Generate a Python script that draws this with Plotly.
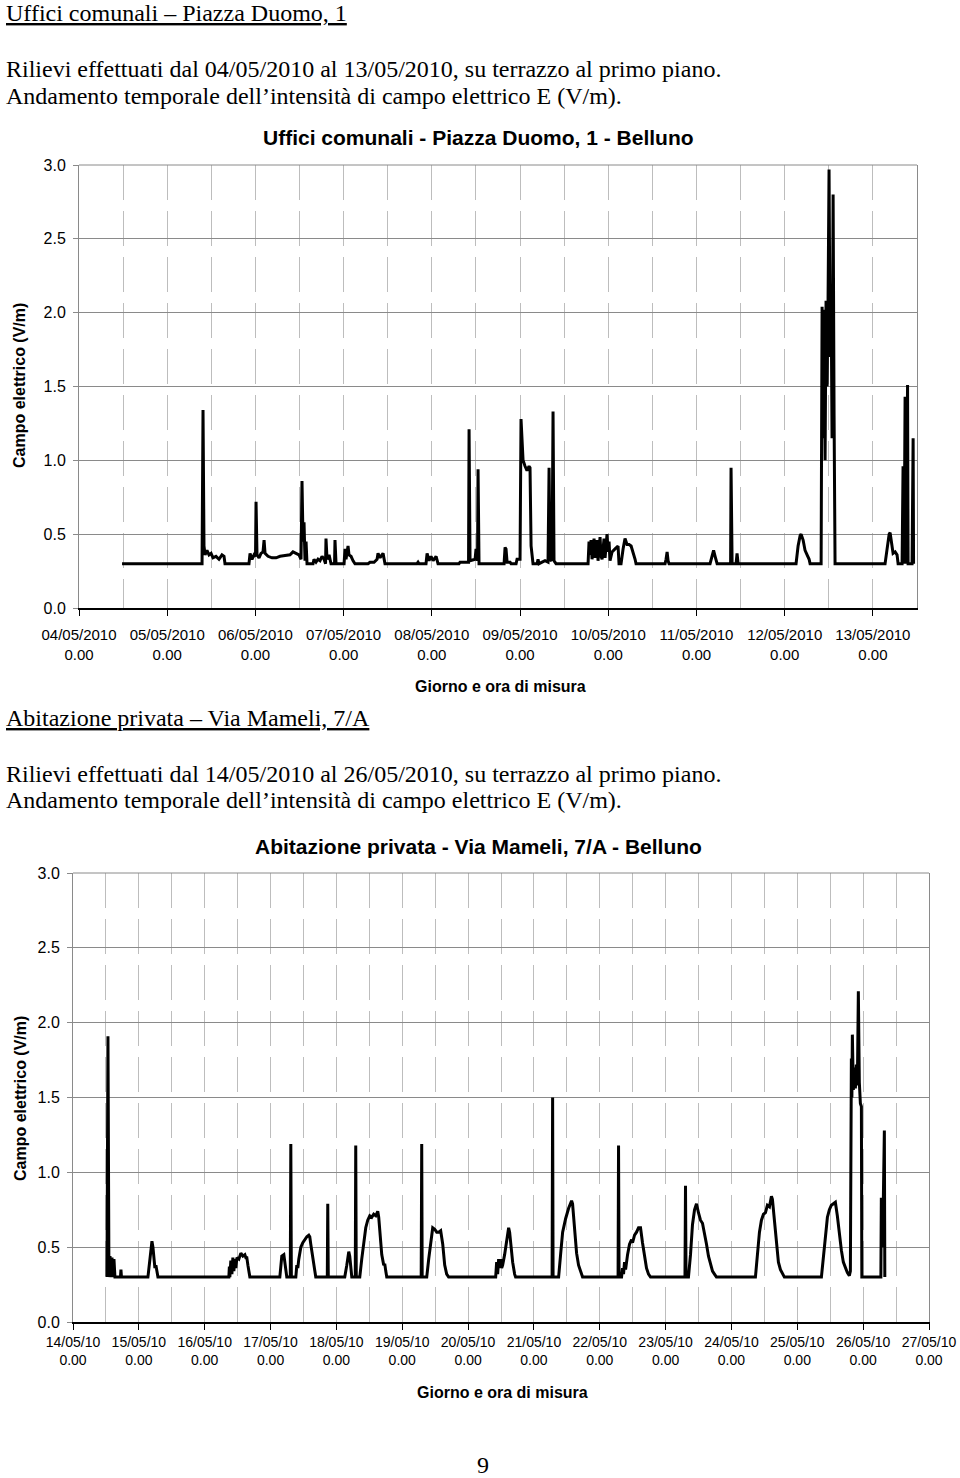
import pandas as pd
import plotly.graph_objects as go

# ---------------- Chart 1 : Uffici comunali (days after 04/05/2010 00:00) ----------------
T1 = [0.488, 1.395, 1.406, 1.417, 1.429, 1.451, 1.474, 1.497, 1.519, 1.553, 1.587, 1.621, 1.644, 1.655,
      1.927, 1.939, 1.961, 1.984, 2.001, 2.007, 2.018, 2.041, 2.063, 2.086, 2.098, 2.109, 2.143, 2.188,
      2.234, 2.279, 2.336, 2.392, 2.426, 2.460, 2.494, 2.517, 2.528, 2.540, 2.551, 2.562, 2.574, 2.585,
      2.653, 2.664, 2.687, 2.710, 2.732, 2.755, 2.778, 2.795, 2.800, 2.812, 2.835, 2.857, 2.897, 2.902,
      2.914, 3.005, 3.016, 3.027, 3.050, 3.061, 3.084, 3.107, 3.129,
      3.277, 3.299, 3.345, 3.379, 3.390, 3.413, 3.435, 3.447, 3.469,
      3.832, 3.844, 3.855, 3.934, 3.946, 3.968, 3.991, 4.014, 4.048, 4.070,
      4.308, 4.320, 4.388, 4.416, 4.422, 4.433, 4.490, 4.501, 4.518, 4.524, 4.535,
      4.819, 4.830, 4.841, 4.853, 4.887, 4.898, 4.955, 4.966, 5.000, 5.011, 5.023, 5.034, 5.057, 5.079,
      5.102, 5.113, 5.125, 5.136, 5.147, 5.193, 5.204, 5.215, 5.261, 5.283, 5.317, 5.329, 5.340, 5.363,
      5.374, 5.385, 5.408,
      5.771, 5.782, 5.794, 5.805, 5.816, 5.839, 5.850, 5.873, 5.884, 5.907, 5.918, 5.930, 5.952, 5.964,
      5.986, 5.998, 6.009, 6.020, 6.043, 6.077, 6.111, 6.122, 6.145, 6.168, 6.190, 6.213, 6.236, 6.259,
      6.281, 6.304, 6.315,
      6.644, 6.655, 6.667, 6.678, 6.689,
      7.154, 7.177, 7.194, 7.211, 7.234,
      7.387, 7.392, 7.404, 7.449, 7.460, 7.472,
      8.129, 8.152, 8.175, 8.186, 8.209, 8.231, 8.254, 8.277, 8.288,
      8.413, 8.424, 8.435, 8.447, 8.458, 8.469, 8.481, 8.492, 8.503, 8.515, 8.526, 8.537, 8.549, 8.560, 8.571,
      9.138, 9.161, 9.184, 9.195, 9.206, 9.229, 9.252, 9.274, 9.286,
      9.331, 9.342, 9.354, 9.365, 9.376, 9.393, 9.399, 9.444, 9.456, 9.461]
E1 = [0.30, 0.30, 1.34, 0.42, 0.36, 0.39, 0.36, 0.37, 0.34, 0.35, 0.33, 0.36, 0.35, 0.30,
      0.30, 0.37, 0.33, 0.36, 0.35, 0.72, 0.36, 0.34, 0.37, 0.38, 0.46, 0.37, 0.35, 0.34,
      0.34, 0.35, 0.355, 0.36, 0.38, 0.37, 0.36, 0.33, 0.86, 0.45, 0.58, 0.32, 0.45, 0.30,
      0.30, 0.33, 0.31, 0.33, 0.32, 0.35, 0.33, 0.30, 0.47, 0.33, 0.36, 0.30, 0.30, 0.46,
      0.30, 0.30, 0.40, 0.33, 0.42, 0.36, 0.35, 0.32, 0.30,
      0.30, 0.31, 0.31, 0.33, 0.37, 0.34, 0.36, 0.37, 0.30,
      0.30, 0.31, 0.30, 0.30, 0.37, 0.32, 0.35, 0.32, 0.35, 0.30,
      0.30, 0.31, 0.31, 0.31, 1.21, 0.32, 0.33, 0.40, 0.32, 0.94, 0.30,
      0.30, 0.41, 0.40, 0.31, 0.31, 0.30, 0.30, 0.33, 0.33, 1.28, 1.10, 1.00, 0.96, 0.93,
      0.96, 0.95, 0.42, 0.35, 0.30, 0.30, 0.33, 0.30, 0.31, 0.32, 0.31, 0.95, 0.32, 0.33,
      1.33, 0.32, 0.30,
      0.30, 0.45, 0.36, 0.46, 0.33, 0.47, 0.34, 0.46, 0.32, 0.48, 0.35, 0.33, 0.47, 0.34,
      0.50, 0.38, 0.45, 0.32, 0.38, 0.40, 0.42, 0.30, 0.30, 0.40, 0.47, 0.43, 0.43, 0.42,
      0.38, 0.33, 0.30,
      0.30, 0.33, 0.38, 0.32, 0.30,
      0.30, 0.35, 0.39, 0.35, 0.30,
      0.30, 0.95, 0.30, 0.30, 0.37, 0.30,
      0.30, 0.42, 0.49, 0.50, 0.46, 0.39, 0.36, 0.33, 0.30,
      0.30, 2.04, 1.15, 2.02, 1.00, 2.08, 1.50, 2.10, 2.97, 1.70, 2.15, 1.15, 2.80, 1.30, 0.30,
      0.30, 0.42, 0.50, 0.51, 0.46, 0.37, 0.38, 0.36, 0.30,
      0.30, 0.96, 0.30, 1.43, 0.30, 1.51, 0.30, 0.30, 1.15, 0.30]
DAYS1 = ["04/05/2010", "05/05/2010", "06/05/2010", "07/05/2010", "08/05/2010",
         "09/05/2010", "10/05/2010", "11/05/2010", "12/05/2010", "13/05/2010"]

# ---------------- Chart 2 : Abitazione privata (days after 14/05/2010 00:00) ----------------
T2 = [0.516, 0.531, 0.546, 0.562, 0.577, 0.592, 0.607, 0.622, 0.637, 0.721, 0.728, 0.736,
      1.138, 1.168, 1.199, 1.214, 1.229, 1.244, 1.259, 1.274, 1.290,
      2.367, 2.375, 2.382, 2.397, 2.413, 2.428, 2.443, 2.458, 2.473, 2.489, 2.519, 2.549, 2.580,
      2.610, 2.625, 2.640, 2.656, 2.671, 2.686,
      3.141, 3.156, 3.171, 3.202, 3.217, 3.232, 3.247,
      3.300, 3.308, 3.316,
      3.384, 3.399, 3.414, 3.429, 3.460, 3.490, 3.520, 3.551, 3.581, 3.596, 3.611, 3.642, 3.672, 3.687,
      3.862, 3.869, 3.877,
      4.127, 4.158, 4.173, 4.188, 4.203, 4.218, 4.234,
      4.287, 4.294, 4.302,
      4.355, 4.385, 4.416, 4.446, 4.476, 4.507, 4.537, 4.567, 4.598, 4.628, 4.643, 4.659, 4.689,
      4.719, 4.734, 4.750, 4.765,
      5.288, 5.296, 5.303,
      5.372, 5.402, 5.433, 5.463, 5.493, 5.524, 5.554, 5.584, 5.615, 5.645, 5.675, 5.705,
      6.419, 6.434, 6.449, 6.464, 6.480, 6.495, 6.510, 6.525, 6.555, 6.586, 6.616, 6.631, 6.646,
      6.677, 6.707, 6.722,
      7.276, 7.284, 7.291,
      7.375, 7.405, 7.436, 7.481, 7.527, 7.572, 7.587, 7.618, 7.648, 7.678, 7.709, 7.739,
      8.278, 8.285, 8.293,
      8.331, 8.346, 8.361, 8.376, 8.392, 8.422, 8.452, 8.483, 8.498, 8.528, 8.558, 8.589, 8.619,
      8.649, 8.680, 8.710, 8.740, 8.771,
      9.294, 9.302, 9.310,
      9.347, 9.378, 9.408, 9.439, 9.469, 9.499, 9.530, 9.560, 9.590, 9.621, 9.651, 9.681, 9.712,
      9.742, 9.772,
      10.364, 10.395, 10.425, 10.455, 10.486, 10.516, 10.546, 10.577, 10.607, 10.622, 10.653, 10.683,
      10.713, 10.744, 10.774, 10.804,
      11.366, 11.396, 11.426, 11.457, 11.487, 11.517, 11.548, 11.578, 11.608, 11.639, 11.669, 11.699,
      11.730, 11.760, 11.790, 11.806, 11.821, 11.829, 11.836, 11.851, 11.866, 11.882, 11.897, 11.912,
      11.927, 11.942, 11.958, 11.973, 11.980,
      12.269, 12.276, 12.291, 12.307, 12.322, 12.329]
E2 = [0.30, 1.91, 0.30, 0.44, 0.30, 0.43, 0.30, 0.42, 0.30, 0.30, 0.35, 0.30,
      0.30, 0.42, 0.54, 0.50, 0.42, 0.36, 0.38, 0.34, 0.30,
      0.30, 0.37, 0.30, 0.41, 0.32, 0.43, 0.34, 0.42, 0.36, 0.43, 0.42, 0.46, 0.44,
      0.45, 0.43, 0.43, 0.38, 0.33, 0.30,
      0.30, 0.38, 0.44, 0.45, 0.41, 0.35, 0.30,
      0.30, 1.19, 0.30,
      0.30, 0.38, 0.36, 0.42, 0.50, 0.53, 0.55, 0.57, 0.58, 0.57, 0.52, 0.42, 0.33, 0.30,
      0.30, 0.79, 0.30,
      0.30, 0.38, 0.45, 0.47, 0.44, 0.36, 0.30,
      0.30, 1.18, 0.30,
      0.30, 0.42, 0.55, 0.63, 0.68, 0.71, 0.70, 0.72, 0.71, 0.74, 0.70, 0.60, 0.45,
      0.38, 0.39, 0.34, 0.30,
      0.30, 1.19, 0.30,
      0.30, 0.42, 0.55, 0.63, 0.62, 0.60, 0.60, 0.61, 0.52, 0.38, 0.32, 0.30,
      0.30, 0.40, 0.32, 0.42, 0.36, 0.42, 0.36, 0.38, 0.45, 0.56, 0.63, 0.60, 0.52,
      0.40, 0.32, 0.30,
      0.30, 1.50, 0.30,
      0.30, 0.45, 0.60, 0.69, 0.76, 0.81, 0.79, 0.62, 0.46, 0.38, 0.33, 0.30,
      0.30, 1.18, 0.30,
      0.30, 0.36, 0.32, 0.40, 0.35, 0.45, 0.52, 0.55, 0.53, 0.58, 0.60, 0.63, 0.63,
      0.53, 0.43, 0.36, 0.32, 0.30,
      0.30, 0.91, 0.30,
      0.30, 0.45, 0.65, 0.75, 0.79, 0.73, 0.68, 0.66, 0.60, 0.52, 0.44, 0.38, 0.34,
      0.32, 0.30,
      0.30, 0.45, 0.60, 0.68, 0.72, 0.73, 0.78, 0.77, 0.84, 0.82, 0.67, 0.50,
      0.40, 0.35, 0.32, 0.30,
      0.30, 0.45, 0.60, 0.70, 0.75, 0.78, 0.79, 0.80, 0.71, 0.58, 0.48, 0.40,
      0.36, 0.33, 0.31, 0.34, 1.76, 1.50, 1.92, 1.55, 1.70, 1.56, 1.72, 1.58,
      2.21, 1.60, 1.46, 1.44, 0.30,
      0.30, 0.83, 0.50, 0.83, 1.28, 0.30]
DAYS2 = ["14/05/10", "15/05/10", "16/05/10", "17/05/10", "18/05/10", "19/05/10", "20/05/10",
         "21/05/10", "22/05/10", "23/05/10", "24/05/10", "25/05/10", "26/05/10", "27/05/10"]
HOUR_LABEL = "0.00"
Y_TICKS = [0.0, 0.5, 1.0, 1.5, 2.0, 2.5, 3.0]

TITLE1 = "Uffici comunali - Piazza Duomo, 1 - Belluno"
TITLE2 = "Abitazione privata - Via Mameli, 7/A - Belluno"
Y_TITLE = "Campo elettrico (V/m)"
X_TITLE = "Giorno e ora di misura"

# ---------------- layout helpers ----------------
W, H = 960, 1478
SANS = "Liberation Sans, Arial, sans-serif"
SERIF = "Liberation Serif, Times New Roman, serif"


def px(x):
    return x / W


def py(y):
    return 1 - y / H


d1 = pd.to_datetime(DAYS1, format="%d/%m/%Y")
d2 = pd.to_datetime(DAYS2, format="%d/%m/%y")
x1 = d1[0] + pd.to_timedelta(T1, unit="D")
x2 = d2[0] + pd.to_timedelta(T2, unit="D")

fig = go.Figure()
fig.add_trace(go.Scatter(x=x1, y=E1, mode="lines", line=dict(color="black", width=3),
                         xaxis="x", yaxis="y", showlegend=False))
fig.add_trace(go.Scatter(x=x2, y=E2, mode="lines", line=dict(color="black", width=3),
                         xaxis="x2", yaxis="y2", showlegend=False))

GRID_V = "#bdbdbd"
GRID_H = "#8a8a8a"


def xaxis_style(days, labels, rng, dom, anchor, fsize, standoff):
    return dict(
        type="date", domain=dom, anchor=anchor, range=rng, automargin=False,
        tickmode="array", tickvals=list(days), ticktext=[f"{l}<br>{HOUR_LABEL}" for l in labels],
        ticks="outside", ticklen=6, tickwidth=1.3, tickcolor="black",
        tickfont=dict(family=SANS, size=fsize, color="black"), ticklabelstandoff=standoff,
        showline=True, linecolor="black", linewidth=2,
        showgrid=True, gridcolor=GRID_V, gridwidth=1, griddash="35px,11px",
        minor=dict(dtick=12 * 3600 * 1000, tick0=days[0], showgrid=True, gridcolor=GRID_V,
                   gridwidth=1, griddash="35px,11px", ticks=""),
        zeroline=False, fixedrange=True,
    )


def yaxis_style(dom, anchor):
    return dict(
        domain=dom, anchor=anchor, range=[0, 3], automargin=False, tickmode="array", tickvals=Y_TICKS,
        ticktext=[f"{v:.1f}" for v in Y_TICKS],
        ticks="outside", ticklen=5, tickcolor=GRID_H, ticklabelstandoff=4,
        tickfont=dict(family=SANS, size=16, color="black"),
        showline=True, linecolor=GRID_H, linewidth=1, mirror=True,
        showgrid=True, gridcolor=GRID_H, gridwidth=1, zeroline=False, fixedrange=True,
    )


fig.update_layout(
    template="none",
    width=W, height=H, margin=dict(l=0, r=0, t=0, b=0, pad=0), autosize=False,
    paper_bgcolor="white", plot_bgcolor="white", showlegend=False,
    xaxis=xaxis_style(d1, DAYS1, [d1[0], d1[-1] + pd.Timedelta(hours=12)], [px(79), px(917)], "y", 15, 6),
    yaxis=yaxis_style([py(608), py(165)], "x"),
    xaxis2=xaxis_style(d2, DAYS2, [d2[0], d2[-1]], [px(73), px(929)], "y2", 14, 0),
    yaxis2=yaxis_style([py(1322), py(873)], "x2"),
)

# top border of each plot area
for xr, yr in (("x domain", "y domain"), ("x2 domain", "y2 domain")):
    fig.add_shape(type="line", xref=xr, yref=yr, x0=0, x1=1, y0=1, y1=1,
                  line=dict(color=GRID_H, width=1))


def note(text, x, y, size, family=SANS, xanchor="left", angle=0):
    fig.add_annotation(text=text, x=px(x), y=py(y), xref="paper", yref="paper",
                       xanchor=xanchor, yanchor="middle", showarrow=False, textangle=angle,
                       font=dict(family=family, size=size, color="black"))


note("<u>Uffici comunali – Piazza Duomo, 1</u>", 4, 13, 24, SERIF)
note("Rilievi effettuati dal 04/05/2010 al 13/05/2010, su terrazzo al primo piano.", 4, 69, 24, SERIF)
note("Andamento temporale dell’intensità di campo elettrico E (V/m).", 4, 96, 24, SERIF)
note(f"<b>{TITLE1}</b>", 478, 137, 21, xanchor="center")
note(f"<b>{Y_TITLE}</b>", 20, 386, 16, xanchor="center", angle=-90)
note(f"<b>{X_TITLE}</b>", 500, 686, 16, xanchor="center")

note("<u>Abitazione privata – Via Mameli, 7/A</u>", 4, 718, 24, SERIF)
note("Rilievi effettuati dal 14/05/2010 al 26/05/2010, su terrazzo al primo piano.", 4, 774, 24, SERIF)
note("Andamento temporale dell’intensità di campo elettrico E (V/m).", 4, 800, 24, SERIF)
note(f"<b>{TITLE2}</b>", 478, 846, 21, xanchor="center")
note(f"<b>{Y_TITLE}</b>", 20, 1099, 16, xanchor="center", angle=-90)
note(f"<b>{X_TITLE}</b>", 502, 1392, 16, xanchor="center")

note("9", 483, 1465, 24, SERIF, xanchor="center")

fig.write_html("out.html")
